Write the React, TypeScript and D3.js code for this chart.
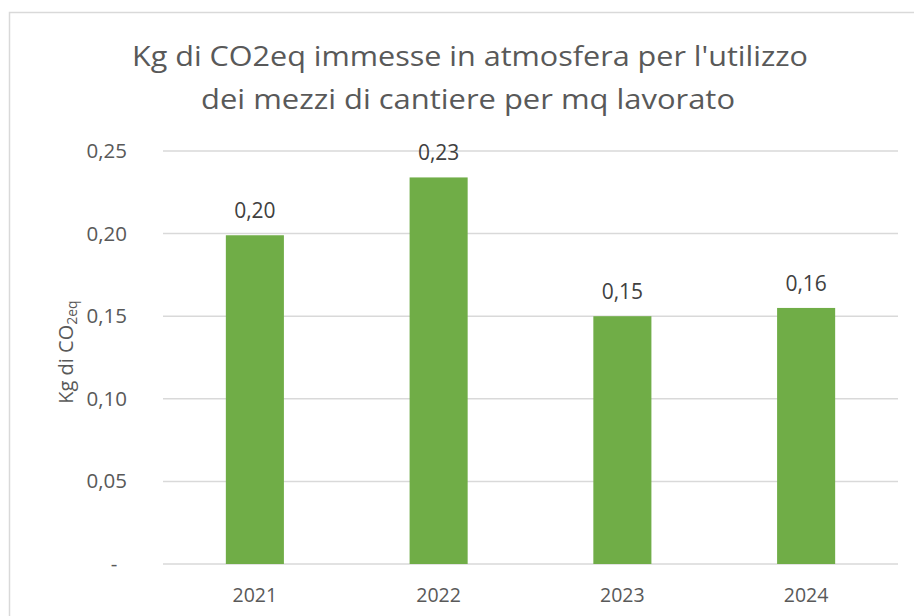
import React, { useEffect, useRef } from 'react';
import * as d3 from 'd3';

const years = ['2021', '2022', '2023', '2024'];
const values = [0.199, 0.234, 0.15, 0.155];
const valueLabels = ['0,20', '0,23', '0,15', '0,16'];
const yTicks = [0, 0.05, 0.1, 0.15, 0.2, 0.25];
const yTickLabels = ['-', '0,05', '0,10', '0,15', '0,20', '0,25'];
const titleLines = ["Kg di CO2eq immesse in atmosfera per l'utilizzo", 'dei mezzi di cantiere per mq lavorato'];

const W = 914;
const H = 616;
const FONT = "'Open Sans', sans-serif";
const TEXT = '#595959';
const GRID = '#d9d9d9';
const BAR = '#70AD47';

const App: React.FC = () => {
  const svgRef = useRef<SVGSVGElement>(null);

  useEffect(() => {
    if (!svgRef.current) return;
    const svg = d3.select(svgRef.current);
    svg.selectAll('*').remove();

    // chart area frame
    svg.append('rect')
      .attr('x', 9.5).attr('y', 12.5)
      .attr('width', W + 20).attr('height', H + 20)
      .attr('fill', '#fff')
      .attr('stroke', GRID).attr('stroke-width', 1.5);

    const x = d3.scaleBand().domain(years).range([163, 898]).padding(0);
    const y = d3.scaleLinear().domain([0, 0.25]).range([564, 151]);
    const barW = x.bandwidth() * 0.316;

    // title
    const title = svg.append('g').attr('font-family', FONT).attr('fill', TEXT).attr('font-size', 28);
    title.append('text')
      .attr('x', 470).attr('y', 66)
      .attr('text-anchor', 'middle')
      .attr('textLength', 676).attr('lengthAdjust', 'spacingAndGlyphs')
      .text(titleLines[0]);
    title.append('text')
      .attr('x', 468).attr('y', 109)
      .attr('text-anchor', 'middle')
      .attr('textLength', 534).attr('lengthAdjust', 'spacingAndGlyphs')
      .text(titleLines[1]);

    // gridlines
    svg.append('g')
      .selectAll('line')
      .data(yTicks)
      .enter().append('line')
      .attr('x1', 163).attr('x2', 898)
      .attr('y1', d => y(d)).attr('y2', d => y(d))
      .attr('stroke', GRID).attr('stroke-width', 1.5);

    // y tick labels
    svg.append('g')
      .selectAll('text')
      .data(yTicks)
      .enter().append('text')
      .attr('x', (d, i) => (i === 0 ? 114 : 127))
      .attr('y', d => y(d) + 7)
      .attr('text-anchor', (d, i) => (i === 0 ? 'middle' : 'end'))
      .attr('font-family', FONT).attr('font-size', 20.5).attr('fill', TEXT)
      .text((d, i) => yTickLabels[i]);

    // y axis title with subscript
    const yt = svg.append('text')
      .attr('transform', 'translate(73,352) rotate(-90)')
      .attr('text-anchor', 'middle')
      .attr('font-family', FONT).attr('font-size', 20).attr('fill', TEXT);
    yt.append('tspan').text('Kg di CO');
    yt.append('tspan').attr('font-size', 14).attr('dy', 4).text('2eq');

    // bars
    svg.append('g')
      .selectAll('rect')
      .data(values)
      .enter().append('rect')
      .attr('x', (d, i) => x(years[i])! + (x.bandwidth() - barW) / 2)
      .attr('y', d => y(d))
      .attr('width', barW)
      .attr('height', d => y(0) - y(d))
      .attr('fill', BAR);

    // value labels
    svg.append('g')
      .selectAll('text')
      .data(values)
      .enter().append('text')
      .attr('x', (d, i) => x(years[i])! + x.bandwidth() / 2)
      .attr('y', d => y(d) - 17)
      .attr('text-anchor', 'middle')
      .attr('font-family', FONT).attr('font-size', 21).attr('fill', '#404040')
      .text((d, i) => valueLabels[i]);

    // x labels
    svg.append('g')
      .selectAll('text')
      .data(years)
      .enter().append('text')
      .attr('x', d => x(d)! + x.bandwidth() / 2)
      .attr('y', 602)
      .attr('text-anchor', 'middle')
      .attr('font-family', FONT).attr('font-size', 19.5).attr('fill', TEXT)
      .text(d => d);
  }, []);

  return (
    <svg ref={svgRef} width={W} height={H}
      style={{ position: 'absolute', left: 0, top: 0, background: '#fff' }} />
  );
};

export default App;
